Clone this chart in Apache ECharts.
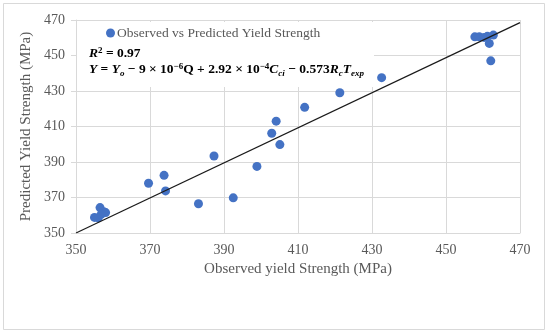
<!DOCTYPE html>
<html>
<head>
<meta charset="utf-8">
<script src="https://cdn.jsdelivr.net/npm/echarts@6/dist/echarts.min.js"></script>
<style>
html,body{margin:0;padding:0;background:#fff;}
#c{width:550px;height:335px;}
</style>
</head>
<body>
<div id="c"></div>
<script>
// Observed vs predicted yield strength (MPa)
var observed = [457.8, 459.0, 460.3, 461.2, 462.8, 461.7, 462.1, 432.6, 421.3, 411.8, 404.1, 402.9, 405.1, 387.3, 398.9, 373.8, 369.6, 374.2, 392.5, 383.1, 356.5, 357.5, 358.0, 355.0, 356.0, 356.8];
var predicted = [460.5, 460.5, 460.2, 460.8, 461.5, 456.8, 447.0, 437.5, 429.0, 420.8, 413.0, 406.2, 399.8, 393.4, 387.5, 382.5, 378.0, 373.7, 369.8, 366.5, 364.3, 362.0, 361.5, 358.8, 358.5, 360.5];
// Fitted line end points
var lineX = [350, 470];
var lineY = [350, 468.5];
// Axis ticks
var xTicks = [350, 370, 390, 410, 430, 450, 470];
var yTicks = [350, 370, 390, 410, 430, 450, 470];
var seriesName = 'Observed vs Predicted Yield Strength';
var xName = 'Observed yield Strength (MPa)';
var yName = 'Predicted Yield Strength (MPa)';

var pts = observed.map(function (v, i) { return [v, predicted[i]]; });
var linePts = lineX.map(function (v, i) { return [v, lineY[i]]; });

var serif = '"Liberation Serif", "Times New Roman", serif';
var txt = '#595959';
var grid = '#d9d9d9';

var chart = echarts.init(document.getElementById('c'), null, {renderer: 'canvas'});
chart.setOption({
  animation: false,
  backgroundColor: '#fff',
  grid: {left: 76, right: 30, top: 20, bottom: 102, containLabel: false},
  legend: {
    data: [seriesName],
    left: 106, top: 26, padding: 0,
    icon: 'circle', itemWidth: 9, itemHeight: 9, itemGap: 10,
    textStyle: {fontFamily: serif, fontSize: 13.5, color: txt, padding: [0, 0, 0, -3]}
  },
  xAxis: {
    type: 'value', min: xTicks[0], max: xTicks[xTicks.length - 1], interval: 20,
    name: xName, nameLocation: 'middle', nameGap: 29,
    nameTextStyle: {fontFamily: serif, fontSize: 15, color: txt},
    axisLine: {show: true, lineStyle: {color: grid, width: 1}},
    axisTick: {show: false},
    axisLabel: {fontFamily: serif, fontSize: 14, color: txt, margin: 10},
    splitLine: {show: true, lineStyle: {color: grid, width: 1}}
  },
  yAxis: {
    type: 'value', min: yTicks[0], max: yTicks[yTicks.length - 1], interval: 20,
    name: yName, nameLocation: 'middle', nameGap: 37,
    nameTextStyle: {fontFamily: serif, fontSize: 15, color: txt},
    axisLine: {show: true, lineStyle: {color: grid, width: 1}},
    axisTick: {show: true, length: 5, lineStyle: {color: grid}},
    axisLabel: {fontFamily: serif, fontSize: 14, color: txt, margin: 11},
    splitLine: {show: true, lineStyle: {color: grid, width: 1}}
  },
  graphic: [
    {type: 'rect', z: 0, silent: true, shape: {x: 3.5, y: 3.5, width: 541, height: 326}, style: {fill: 'none', stroke: '#d9d9d9', lineWidth: 1}},
    {type: 'rect', z: 1, silent: true, shape: {x: 77, y: 22, width: 297, height: 65}, style: {fill: '#fff'}},
    {type: 'text', z: 2, left: 89, top: 46, silent: true,
      style: {
        text: '{it|R}{sup|2}{b| = 0.97}',
        rich: {
          it: {fontFamily: serif, fontSize: 13.5, fontWeight: 'bold', fontStyle: 'italic', fill: '#000', lineHeight: 16, verticalAlign: 'middle'},
          b: {fontFamily: serif, fontSize: 13.5, fontWeight: 'bold', fill: '#000', lineHeight: 16, verticalAlign: 'middle'},
          sup: {fontFamily: serif, fontSize: 9, fontWeight: 'bold', fill: '#000', verticalAlign: 'top', lineHeight: 16}
        }
      }
    },
    {type: 'text', z: 2, left: 89, top: 62, silent: true,
      style: {
        text: '{it|Y}{b| = }{it|Y}{sub|o}{b| − 9 × 10}{sup|−6}{b|Q + 2.92 × 10}{sup|−4}{it|C}{sub|ci}{b| − 0.573}{it|R}{sub|c}{it|T}{sub|exp}',
        rich: {
          it: {fontFamily: serif, fontSize: 13.5, fontWeight: 'bold', fontStyle: 'italic', fill: '#000', lineHeight: 16, verticalAlign: 'middle'},
          b: {fontFamily: serif, fontSize: 13.5, fontWeight: 'bold', fill: '#000', lineHeight: 16, verticalAlign: 'middle'},
          sup: {fontFamily: serif, fontSize: 9, fontWeight: 'bold', fill: '#000', verticalAlign: 'top', lineHeight: 16},
          sub: {fontFamily: serif, fontSize: 9, fontWeight: 'bold', fontStyle: 'italic', fill: '#000', verticalAlign: 'bottom', lineHeight: 16}
        }
      }
    }
  ],
  series: [
    {
      name: seriesName, type: 'scatter', data: pts,
      symbol: 'circle', symbolSize: 9, z: 3,
      itemStyle: {color: '#4472C4', opacity: 1}
    },
    {
      name: 'fit', type: 'line', data: linePts, showSymbol: false, symbol: 'none', z: 4,
      lineStyle: {color: '#1a1a1a', width: 1.2}
    }
  ]
});
</script>
</body>
</html>
